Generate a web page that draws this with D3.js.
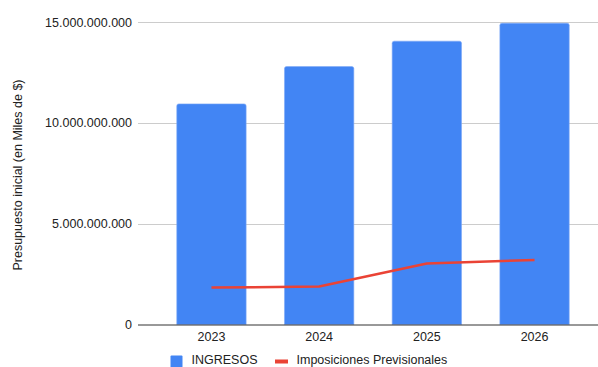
<!DOCTYPE html>
<html>
<head>
<meta charset="utf-8">
<script src="https://cdn.jsdelivr.net/npm/d3@7/dist/d3.min.js"></script>
<style>
  html, body { margin: 0; padding: 0; background: #fff; }
  svg { display: block; font-family: "Liberation Sans", Arial, sans-serif; }
</style>
</head>
<body>
<svg id="chart" width="598" height="367"></svg>
<script>
// Presupuesto por año
const years = ["2023", "2024", "2025", "2026"];
const ingresos = [10940000000, 12790000000, 14050000000, 14940000000];
const imposiciones = [1830000000, 1880000000, 3020000000, 3200000000];
const yTicks = [0, 5000000000, 10000000000, 15000000000];
const seriesNames = ["INGRESOS", "Imposiciones Previsionales"];
const yTitle = "Presupuesto inicial (en Miles de $)";

const W = 598, H = 367;
const plot = { left: 138, right: 598, top: 22, bottom: 324.5 };

const svg = d3.select("#chart");

const x = d3.scaleBand()
  .domain(years)
  .range([plot.left, 608])
  .paddingInner(0.356)
  .paddingOuter(0.36);

const y = d3.scaleLinear()
  .domain([0, 15000000000])
  .range([plot.bottom, plot.top]);

const fmt = v => d3.format(",")(v).replace(/,/g, ".");

// Líneas de cuadrícula
svg.append("g")
  .selectAll("line")
  .data(yTicks.filter(d => d !== 0))
  .join("line")
  .attr("x1", plot.left).attr("x2", plot.right)
  .attr("y1", d => Math.round(y(d)) + 0.5).attr("y2", d => Math.round(y(d)) + 0.5)
  .attr("stroke", "#cccccc").attr("stroke-width", 1);

// Eje Y: etiquetas
const yAxis = d3.axisLeft(y).tickValues(yTicks).tickFormat(fmt).tickSize(0).tickPadding(0);
const gy = svg.append("g").attr("transform", `translate(${plot.left - 6},0)`).call(yAxis);
gy.select(".domain").remove();
gy.selectAll("text")
  .attr("font-size", "12.5px")
  .attr("font-family", "Liberation Sans, Arial, sans-serif")
  .attr("fill", "#222");

// Barras con esquinas superiores redondeadas
const r = 2;
function barPath(x0, y0, w, h) {
  return `M${x0},${y0 + h}V${y0 + r}Q${x0},${y0} ${x0 + r},${y0}H${x0 + w - r}Q${x0 + w},${y0} ${x0 + w},${y0 + r}V${y0 + h}Z`;
}
svg.append("g")
  .selectAll("path")
  .data(years.map((yr, i) => ({ yr, v: ingresos[i] })))
  .join("path")
  .attr("d", d => barPath(x(d.yr), y(d.v), x.bandwidth(), y(0) - y(d.v)))
  .attr("fill", "#4285f4")
  .attr("stroke", "#7fa9f7")
  .attr("stroke-width", 0.6);

// Eje X
const xAxis = d3.axisBottom(x).tickSize(0).tickPadding(8);
const gx = svg.append("g").attr("transform", `translate(0,${plot.bottom})`).call(xAxis);
gx.select(".domain").remove();
gx.selectAll("text")
  .attr("font-size", "12.5px")
  .attr("font-family", "Liberation Sans, Arial, sans-serif")
  .attr("fill", "#222");

svg.append("line")
  .attr("x1", plot.left).attr("x2", plot.right)
  .attr("y1", y(0) + 0.5).attr("y2", y(0) + 0.5)
  .attr("stroke", "#333333").attr("stroke-width", 1);

// Línea de imposiciones previsionales
const line = d3.line()
  .x((d, i) => x(years[i]) + x.bandwidth() / 2)
  .y(d => y(d));
svg.append("path")
  .datum(imposiciones)
  .attr("d", line)
  .attr("fill", "none")
  .attr("stroke", "#ea4335")
  .attr("stroke-width", 2.5)
  .attr("stroke-linejoin", "round");

// Título del eje Y
svg.append("text")
  .attr("transform", `translate(22,175) rotate(-90)`)
  .attr("text-anchor", "middle")
  .attr("font-size", "12.5px")
  .attr("fill", "#222")
  .text(yTitle);

// Leyenda
const lg = svg.append("g");
lg.append("rect")
  .attr("x", 170.5).attr("y", 355.5).attr("width", 12).attr("height", 12)
  .attr("rx", 1)
  .attr("fill", "#4285f4");
lg.append("text")
  .attr("x", 191.5).attr("y", 364)
  .attr("font-size", "12.5px").attr("fill", "#222")
  .text(seriesNames[0]);
lg.append("rect")
  .attr("x", 275).attr("y", 359.5).attr("width", 13).attr("height", 4)
  .attr("fill", "#ea4335");
lg.append("text")
  .attr("x", 296.5).attr("y", 364)
  .attr("font-size", "12.5px").attr("fill", "#222")
  .text(seriesNames[1]);
</script>
</body>
</html>
